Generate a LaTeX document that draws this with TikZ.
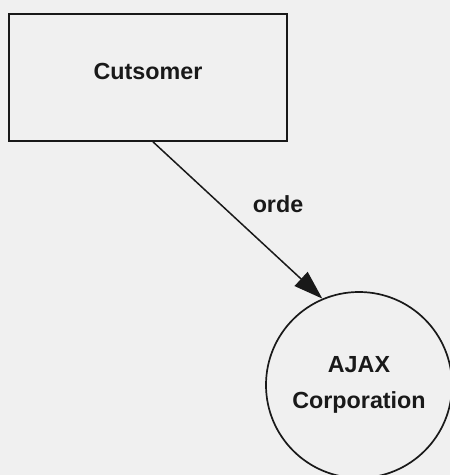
\documentclass[tikz,border=0pt]{standalone}
\usepackage{fontspec}
\setmainfont{Liberation Sans}
\usetikzlibrary{arrows.meta}
\definecolor{paper}{RGB}{240,240,240}
\definecolor{ink}{RGB}{25,25,25}

\begin{document}
\begin{tikzpicture}[x=1pt,y=1pt,>={Triangle[length=29pt,width=19pt]},
  ent/.style={draw=ink,line width=1.7pt,font=\fontsize{23.3}{36}\selectfont\bfseries,text=ink}]
\fill[paper] (0,0) rectangle (450,475);
\useasboundingbox (0,0) rectangle (450,475);
\node[ent,rectangle,minimum width=278pt,minimum height=127pt,text height=17pt,text depth=12pt] (cust) at (148,397.5) {Cutsomer};
\node[ent,circle,minimum size=186pt,align=center] (ajax) at (359,90) {AJAX\\Corporation};
\draw[->,ink,line width=1.5pt] ([xshift=5pt]cust.south) -- (ajax.113);
\node[ink,font=\fontsize{23.3}{29}\selectfont\bfseries] (lbl) at (278,271) {orde};
\end{tikzpicture}
\end{document}
